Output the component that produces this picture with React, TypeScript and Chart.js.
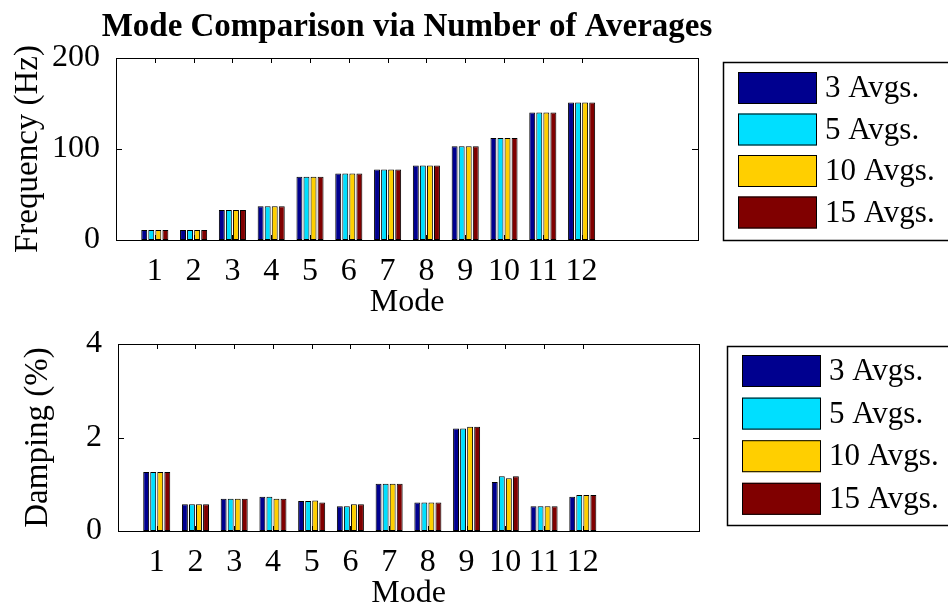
import React, { useEffect, useRef } from 'react';
import { Chart, registerables } from 'chart.js';

Chart.register(...registerables);

// Mode numbers on the x axis
const modes = [1, 2, 3, 4, 5, 6, 7, 8, 9, 10, 11, 12];
const xTickLabels = ['1', '2', '3', '4', '5', '6', '7', '8', '9', '10', '11', '12'];

// Series (number of averages)
const seriesLabels = ['3 Avgs.', '5 Avgs.', '10 Avgs.', '15 Avgs.'];
const seriesColors = ['#00008F', '#00DFFF', '#FFCF00', '#800000'];

// Identified natural frequencies (Hz)
const freq3 = [11, 11, 33, 37, 69.5, 73, 77.5, 82, 103, 112, 140, 151];
const freq5 = [11, 11, 33, 37, 69.5, 73, 77.5, 82, 103, 112, 140, 151];
const freq10 = [11, 11, 33, 37, 69.5, 73, 77.5, 82, 103, 112, 140, 151];
const freq15 = [11, 11, 33, 37, 69.5, 73, 77.5, 82, 103, 112, 140, 151];

// Identified damping ratios (%)
const damp3 = [1.26, 0.57, 0.69, 0.73, 0.64, 0.53, 1.01, 0.61, 2.19, 1.05, 0.53, 0.73];
const damp5 = [1.26, 0.57, 0.69, 0.73, 0.64, 0.53, 1.01, 0.61, 2.19, 1.17, 0.53, 0.77];
const damp10 = [1.26, 0.57, 0.69, 0.69, 0.65, 0.57, 1.01, 0.61, 2.23, 1.13, 0.53, 0.77];
const damp15 = [1.26, 0.57, 0.69, 0.69, 0.61, 0.57, 1.01, 0.61, 2.23, 1.17, 0.53, 0.77];

// Axis limits and tick steps
const xMin = 0;
const xMax = 15;
const freqMax = 200;
const freqStep = 100;
const dampMax = 4;
const dampStep = 2;

const SERIF = '"Liberation Serif", "Times New Roman", serif';

// Axes box with inward ticks, plus a boxed legend and an optional title
const matlabAxes = {
  id: 'matlabAxes',
  beforeDatasetsDraw(chart: any) {
    const { ctx, chartArea: a, scales } = chart;
    ctx.save();
    ctx.strokeStyle = '#000';
    ctx.lineWidth = 1;
    ctx.beginPath();
    modes.forEach((m) => {
      const x = Math.round(scales.x.getPixelForValue(m)) + 0.5;
      ctx.moveTo(x, a.top);
      ctx.lineTo(x, a.top + 5);
      ctx.moveTo(x, a.bottom);
      ctx.lineTo(x, a.bottom - 5);
    });
    scales.y.ticks.forEach((t: any) => {
      const y = Math.round(scales.y.getPixelForValue(t.value)) + 0.5;
      ctx.moveTo(a.left, y);
      ctx.lineTo(a.left + 6, y);
      ctx.moveTo(a.right, y);
      ctx.lineTo(a.right - 6, y);
    });
    ctx.stroke();
    ctx.restore();
  },
  afterDatasetsDraw(chart: any) {
    const { ctx, chartArea: a } = chart;
    ctx.save();
    ctx.strokeStyle = '#000';
    ctx.lineWidth = 1;
    ctx.strokeRect(Math.round(a.left) + 0.5, Math.round(a.top) + 0.5, Math.round(a.right - a.left), Math.round(a.bottom - a.top));
    ctx.restore();
  },
  afterDraw(chart: any, _args: any, opts: any) {
    const { ctx, chartArea: a } = chart;
    ctx.save();
    if (opts.title) {
      ctx.fillStyle = '#000';
      ctx.font = `bold 33px ${SERIF}`;
      ctx.textAlign = 'center';
      ctx.textBaseline = 'alphabetic';
      ctx.fillText(opts.title, (a.left + a.right) / 2, opts.titleY);
    }
    const lg = opts.legend;
    if (lg) {
      const bx = a.right + lg.dx;
      ctx.fillStyle = '#fff';
      ctx.fillRect(bx, lg.top, 300, lg.height);
      ctx.strokeStyle = '#000';
      ctx.lineWidth = 1.5;
      ctx.strokeRect(bx + 0.5, lg.top + 0.5, 300, lg.height);
      chart.data.datasets.forEach((ds: any, i: number) => {
        const sy = lg.top + lg.firstRow + i * lg.rowGap;
        const sx = bx + lg.swatchInset;
        ctx.fillStyle = ds.backgroundColor;
        ctx.fillRect(sx, sy, lg.swatchW, lg.swatchH);
        ctx.strokeStyle = '#000';
        ctx.lineWidth = 1;
        ctx.strokeRect(sx + 0.5, sy + 0.5, lg.swatchW - 1, lg.swatchH - 1);
        ctx.fillStyle = '#000';
        ctx.font = `31px ${SERIF}`;
        ctx.textAlign = 'left';
        ctx.textBaseline = 'middle';
        ctx.fillText(ds.label, sx + lg.swatchW + 8, sy + lg.swatchH / 2 + 1);
      });
    }
    ctx.restore();
  },
};

function makeConfig(
  series: number[][],
  yMax: number,
  yStep: number,
  yTitle: string,
  yWidth: number,
  yTitlePad: number,
  xHeight: number,
  xTitlePad: number,
  padding: any,
  pluginOpts: any
): any {
  return {
    type: 'bar',
    data: {
      datasets: series.map((vals, i) => ({
        label: seriesLabels[i],
        data: modes.map((m, j) => ({ x: m, y: vals[j] })),
        backgroundColor: seriesColors[i],
        borderColor: '#000',
        borderWidth: 1,
        borderSkipped: false,
        categoryPercentage: 0.727,
        barPercentage: 0.84,
      })),
    },
    options: {
      animation: false,
      responsive: false,
      devicePixelRatio: 1,
      layout: { padding },
      plugins: {
        legend: { display: false },
        title: { display: false },
        tooltip: { enabled: false },
        matlabAxes: pluginOpts,
      },
      scales: {
        x: {
          type: 'linear',
          min: xMin,
          max: xMax,
          offset: false,
          grid: { display: false },
          border: { display: false },
          ticks: {
            stepSize: 1,
            autoSkip: false,
            maxRotation: 0,
            minRotation: 0,
            padding: 8,
            color: '#000',
            font: { family: SERIF, size: 32, lineHeight: 1 },
            callback: (v: number) => xTickLabels[modes.indexOf(v)] ?? '',
          },
          title: {
            display: true,
            text: 'Mode',
            color: '#000',
            font: { family: SERIF, size: 32, lineHeight: 0.8 },
            padding: { top: 0, bottom: xTitlePad },
          },
          afterFit: (s: any) => {
            s.height = xHeight;
          },
        },
        y: {
          type: 'linear',
          min: 0,
          max: yMax,
          grid: { display: false },
          border: { display: false },
          ticks: {
            stepSize: yStep,
            padding: 8,
            color: '#000',
            font: { family: SERIF, size: 32, lineHeight: 1 },
          },
          title: {
            display: true,
            text: yTitle,
            color: '#000',
            font: { family: SERIF, size: 33, lineHeight: 1 },
            padding: { top: yTitlePad, bottom: 0 },
          },
          afterFit: (s: any) => {
            s.width = yWidth;
          },
        },
      },
    },
    plugins: [matlabAxes],
  };
}

export default function App() {
  const topRef = useRef<HTMLCanvasElement>(null);
  const bottomRef = useRef<HTMLCanvasElement>(null);

  useEffect(() => {
    const top = new Chart(
      topRef.current as HTMLCanvasElement,
      makeConfig(
        [freq3, freq5, freq10, freq15],
        freqMax,
        freqStep,
        'Frequency (Hz)',
        116,
        12,
        80,
        5,
        { top: 58, right: 250, bottom: 0, left: 0 },
        {
          title: 'Mode Comparison via Number of Averages',
          titleY: 36,
          legend: { dx: 25, top: 62, height: 178, firstRow: 10, rowGap: 41.5, swatchInset: 15, swatchW: 79, swatchH: 32 },
        }
      )
    );
    const bottom = new Chart(
      bottomRef.current as HTMLCanvasElement,
      makeConfig(
        [damp3, damp5, damp10, damp15],
        dampMax,
        dampStep,
        'Damping (%)',
        118,
        22,
        76,
        1,
        { top: 18, right: 249, bottom: 0, left: 0 },
        {
          legend: { dx: 28, top: 26, height: 179, firstRow: 9, rowGap: 42.6, swatchInset: 15, swatchW: 79, swatchH: 32 },
        }
      )
    );
    return () => {
      top.destroy();
      bottom.destroy();
    };
  }, []);

  return (
    <div style={{ position: 'absolute', left: 0, top: 0, width: 948, height: 607, background: '#fff', overflow: 'hidden' }}>
      <canvas ref={topRef} width={948} height={320} style={{ position: 'absolute', left: 0, top: 0, width: 948, height: 320 }} />
      <canvas ref={bottomRef} width={948} height={287} style={{ position: 'absolute', left: 0, top: 320, width: 948, height: 287 }} />
    </div>
  );
}
